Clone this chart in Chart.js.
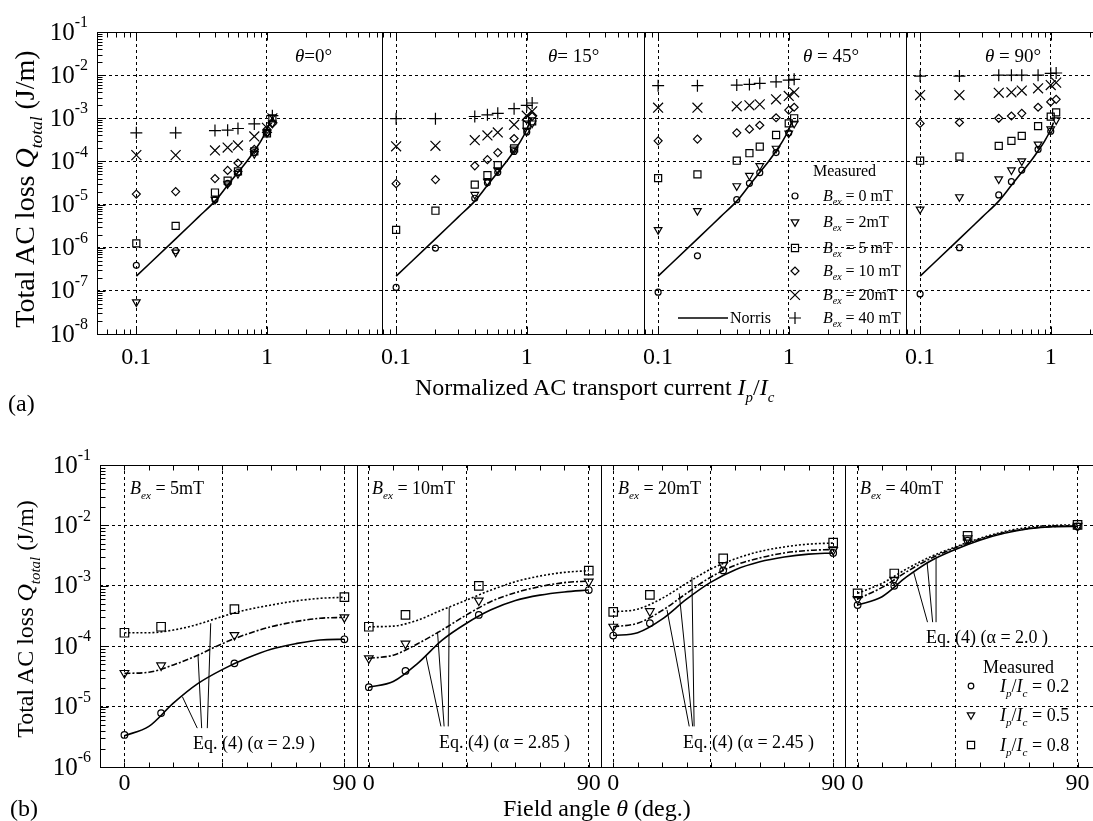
<!DOCTYPE html>
<html lang="en">
<head>
<meta charset="UTF-8">
<title>Total AC loss vs transport current and field angle</title>
<script src="https://cdn.jsdelivr.net/npm/chart.js"></script>
<style>
    * { margin: 0; padding: 0; box-sizing: border-box; }
    body { background: #fff; font-family: 'Liberation Serif', 'Times New Roman', serif; color: #000; }
    #page { position: relative; width: 1093px; height: 821px; overflow: hidden; }
    canvas { position: absolute; left: 0; }
    #chartA { top: 0; }
    #chartB { top: 410px; }
    .lbl { position: absolute; white-space: nowrap; line-height: 1; transform: translateY(-50%); }
    .lbl sub { font-size: 0.62em; vertical-align: -0.45em; line-height: 0; }
    .rot { transform: translate(-50%, -50%) rotate(-90deg); }
</style>
</head>
<body>
<div id="page">
    <canvas id="chartA" width="1168" height="410"></canvas>
    <canvas id="chartB" width="1102" height="400"></canvas>
</div>
<script>
// ---------- panel (a): loss vs normalized transport current ----------
const currentRatio = [0.1, 0.2, 0.4, 0.5, 0.6, 0.8, 1.0, 1.1];
const angleTitlesA = ['<i>θ</i>=0°', '<i>θ</i>= 15°', '<i>θ</i> = 45°', '<i>θ</i> = 90°'];
const fieldLabels = ['= 0 mT', '= 2mT', '= 5 mT', '= 10 mT', '= 20mT', '= 40 mT'];

// theta = 0 deg
const d0_B0  = [3.9e-7, 8.5e-7, 1.3e-5, 3.1e-5, 5.5e-5, 1.6e-4, 4.6e-4, null];
const d0_B2  = [5.5e-8, 7.8e-7, 1.3e-5, 3.0e-5, 5.2e-5, 1.5e-4, 4.6e-4, 7.7e-4];
const d0_B5  = [1.26e-6, 3.2e-6, 1.9e-5, 3.6e-5, 5.9e-5, 1.7e-4, 4.5e-4, 1.0e-3];
const d0_B10 = [1.75e-5, 2.0e-5, 4.0e-5, 6.2e-5, 9.2e-5, 1.9e-4, 5.5e-4, 7.5e-4];
const d0_B20 = [1.4e-4, 1.4e-4, 1.8e-4, 2.1e-4, 2.35e-4, 3.8e-4, 6.0e-4, 1.0e-3];
const d0_B40 = [4.6e-4, 4.6e-4, 5.2e-4, 5.3e-4, 5.8e-4, 7.4e-4, null, 1.15e-3];
// theta = 15 deg
const d15_B0  = [1.2e-7, 9.8e-7, 1.4e-5, 3.2e-5, 5.6e-5, 1.7e-4, 4.8e-4, null];
const d15_B2  = [null, null, 1.7e-5, 3.4e-5, 6.3e-5, 1.9e-4, 5.2e-4, 7.7e-4];
const d15_B5  = [2.6e-6, 7.2e-6, 2.9e-5, 4.8e-5, 8.2e-5, 2.0e-4, 7.1e-4, 8.5e-4];
const d15_B10 = [3.05e-5, 3.8e-5, 7.9e-5, 1.1e-4, 1.6e-4, 3.4e-4, 9.4e-4, 1.1e-3];
const d15_B20 = [2.24e-4, 2.3e-4, 3.1e-4, 4.0e-4, 4.7e-4, 7.1e-4, 1.15e-3, 1.45e-3];
const d15_B40 = [9.8e-4, 9.8e-4, 1.1e-3, 1.2e-3, 1.3e-3, 1.67e-3, 2.0e-3, 2.26e-3];
// theta = 45 deg
const d45_B0  = [9.3e-8, 6.5e-7, 1.3e-5, 3.1e-5, 5.5e-5, 1.6e-4, 4.6e-4, null];
const d45_B2  = [2.6e-6, 7.2e-6, 2.7e-5, 4.7e-5, 7.9e-5, 2.0e-4, 4.5e-4, 7.6e-4];
const d45_B5  = [4.1e-5, 5.0e-5, 1.04e-4, 1.55e-4, 2.2e-4, 4.1e-4, 7.6e-4, 1.0e-3];
const d45_B10 = [3.0e-4, 3.3e-4, 4.6e-4, 5.6e-4, 6.9e-4, 1.03e-3, 1.55e-3, 1.8e-3];
const d45_B20 = [1.76e-3, 1.76e-3, 1.9e-3, 2.0e-3, 2.1e-3, 2.75e-3, 3.3e-3, 4.0e-3];
const d45_B40 = [5.7e-3, 5.7e-3, 5.9e-3, 6.1e-3, 6.45e-3, 7.0e-3, 7.7e-3, 8.0e-3];
// theta = 90 deg
const d90_B0  = [8.5e-8, 1.0e-6, 1.67e-5, 3.4e-5, 6.3e-5, 1.9e-4, 5.0e-4, null];
const d90_B2  = [7.8e-6, 1.5e-5, 3.9e-5, 6.3e-5, 1.02e-4, 2.5e-4, 5.6e-4, 9.1e-4];
const d90_B5  = [1.04e-4, 1.3e-4, 2.3e-4, 3.0e-4, 3.9e-4, 6.6e-4, 1.09e-3, 1.37e-3];
const d90_B10 = [7.6e-4, 8.0e-4, 1.0e-3, 1.13e-3, 1.3e-3, 1.8e-3, 2.4e-3, 2.75e-3];
const d90_B20 = [3.45e-3, 3.45e-3, 3.9e-3, 4.0e-3, 4.4e-3, 4.95e-3, 5.9e-3, 6.7e-3];
const d90_B40 = [9.5e-3, 9.5e-3, 1.0e-2, 1.0e-2, 1.0e-2, 1.0e-2, 1.1e-2, 1.12e-2];

const norrisCurrent = [0.1, 0.2, 0.3, 0.4, 0.5, 0.6, 0.7, 0.8, 0.9, 1.0, 1.05];
const norrisLoss = [2.2e-7, 1.6e-6, 5.2e-6, 1.2e-5, 2.8e-5, 5.6e-5, 1.0e-4, 1.75e-4, 3.0e-4, 5.5e-4, 8.0e-4];

// ---------- panel (b): loss vs field angle ----------
const measuredAngle = [0, 15, 45, 90];
const fitAngle = [0, 10, 20, 30, 40, 50, 60, 70, 80, 90];
const fieldTitlesB = ['5mT', '10mT', '20mT', '40mT'];
const alphaLabels = ['2.9', '2.85', '2.45', '2.0'];
const ratioLabels = ['= 0.2', '= 0.5', '= 0.8'];

const b5_r02 = [3.4e-6, 7.8e-6, 5.2e-5, 1.3e-4];
const b5_r05 = [3.6e-5, 4.8e-5, 1.53e-4, 3.0e-4];
const b5_r08 = [1.67e-4, 2.1e-4, 4.1e-4, 6.5e-4];
const fit5_r02 = [3.3e-6, 4.7e-6, 1.14e-5, 2.4e-5, 4.1e-5, 6.3e-5, 8.9e-5, 1.1e-4, 1.27e-4, 1.3e-4];
const fit5_r05 = [3.55e-5, 3.7e-5, 4.9e-5, 7.1e-5, 1.1e-4, 1.58e-4, 2.1e-4, 2.55e-4, 2.9e-4, 3.0e-4];
const fit5_r08 = [1.67e-4, 1.67e-4, 1.85e-4, 2.3e-4, 3.1e-4, 4.0e-4, 4.8e-4, 5.6e-4, 6.2e-4, 6.45e-4];

const b10_r02 = [2.1e-5, 3.9e-5, 3.3e-4, 8.5e-4];
const b10_r05 = [6.3e-5, 1.1e-4, 5.7e-4, 1.17e-3];
const b10_r08 = [2.1e-4, 3.3e-4, 1.0e-3, 1.78e-3];
const fit10_r02 = [2.1e-5, 2.6e-5, 5.2e-5, 1.26e-4, 2.4e-4, 4.0e-4, 5.7e-4, 7.0e-4, 7.9e-4, 8.5e-4];
const fit10_r05 = [6.3e-5, 7.1e-5, 1.1e-4, 1.86e-4, 3.3e-4, 5.5e-4, 7.7e-4, 9.7e-4, 1.13e-3, 1.2e-3];
const fit10_r08 = [2.1e-4, 2.15e-4, 2.7e-4, 4.0e-4, 5.8e-4, 8.5e-4, 1.17e-3, 1.45e-3, 1.67e-3, 1.78e-3];

const b20_r02 = [1.5e-4, 2.4e-4, 1.8e-3, 3.5e-3];
const b20_r05 = [2.1e-4, 3.8e-4, 2.2e-3, 3.9e-3];
const b20_r08 = [3.7e-4, 7.1e-4, 2.85e-3, 5.2e-3];
const fit20_r02 = [1.5e-4, 1.67e-4, 2.8e-4, 6.0e-4, 1.15e-3, 1.85e-3, 2.5e-3, 3.0e-3, 3.35e-3, 3.5e-3];
const fit20_r05 = [2.1e-4, 2.4e-4, 3.9e-4, 7.5e-4, 1.4e-3, 2.2e-3, 2.9e-3, 3.5e-3, 3.85e-3, 4.0e-3];
const fit20_r08 = [3.7e-4, 4.1e-4, 6.2e-4, 1.1e-3, 1.9e-3, 2.8e-3, 3.7e-3, 4.4e-3, 4.9e-3, 5.1e-3];

const b40_r02 = [4.8e-4, 1.0e-3, 5.6e-3, 9.6e-3];
const b40_r05 = [6.05e-4, 1.25e-3, 6.1e-3, 9.8e-3];
const b40_r08 = [7.5e-4, 1.6e-3, 6.7e-3, 1.02e-2];
const fit40_r02 = [4.8e-4, 6.6e-4, 1.4e-3, 2.6e-3, 4.0e-3, 5.7e-3, 7.4e-3, 8.8e-3, 9.5e-3, 9.6e-3];
const fit40_r05 = [6.05e-4, 9.4e-4, 1.7e-3, 2.85e-3, 4.26e-3, 5.9e-3, 7.6e-3, 8.9e-3, 9.6e-3, 9.8e-3];
const fit40_r08 = [7.5e-4, 1.1e-3, 1.9e-3, 3.05e-3, 4.4e-3, 6.1e-3, 7.9e-3, 9.3e-3, 1.0e-2, 1.02e-2];

// leader lines from "Eq. (4)" labels to the fitted curves, in data units
const eqLeaders = [
    {axis: 'x0', from: [23.7, 1.46e-5], to: [29.8, 4.4e-6]},
    {axis: 'x0', from: [30.1, 7.1e-5], to: [31.6, 4.4e-6]},
    {axis: 'x0', from: [35.3, 2.4e-4], to: [33.9, 4.4e-6]},
    {axis: 'x1', from: [23.3, 7.1e-5], to: [29.5, 4.7e-6]},
    {axis: 'x1', from: [28.1, 1.73e-4], to: [30.8, 4.7e-6]},
    {axis: 'x1', from: [32.9, 4.4e-4], to: [32.5, 4.7e-6]},
    {axis: 'x2', from: [22.0, 4.0e-4], to: [31.1, 4.7e-6]},
    {axis: 'x2', from: [27.0, 7.5e-4], to: [32.5, 4.7e-6]},
    {axis: 'x2', from: [32.2, 1.4e-3], to: [33.1, 4.7e-6]},
    {axis: 'x3', from: [22.9, 1.7e-3], to: [28.6, 2.5e-4]},
    {axis: 'x3', from: [28.4, 2.5e-3], to: [30.7, 2.5e-4]},
    {axis: 'x3', from: [32.1, 2.85e-3], to: [32.1, 2.5e-4]}
];

const FONT = '"Liberation Serif", "Times New Roman", serif';

const symStyle = {
    circle:  {pointStyle: 'circle', rotation: 0},
    tri:     {pointStyle: 'triangle', rotation: 180},
    square:  {pointStyle: 'rect', rotation: 0},
    diamond: {pointStyle: 'rectRot', rotation: 0},
    ex:      {pointStyle: 'crossRot', rotation: 0},
    plus:    {pointStyle: 'cross', rotation: 0}
};
const symSizeA = {circle: 3, tri: 4.4, square: 5, diamond: 4, ex: 7, plus: 6};
const symSizeB = {circle: 3.3, tri: 5, square: 6, diamond: 4, ex: 7, plus: 6};

function markers(xs, ys, axis, sym, sizes) {
    const pts = xs.map((x, i) => ({x: x, y: ys[i]})).filter(p => p.y != null);
    return {
        data: pts, xAxisID: axis, yAxisID: 'y', showLine: false,
        pointStyle: symStyle[sym].pointStyle, pointRotation: symStyle[sym].rotation,
        pointRadius: sizes[sym], pointBorderWidth: 1.2,
        pointBorderColor: '#000', pointBackgroundColor: 'rgba(0,0,0,0)'
    };
}

function curve(xs, ys, axis, dash, width) {
    return {
        data: xs.map((x, i) => ({x: x, y: ys[i]})), xAxisID: axis, yAxisID: 'y',
        showLine: true, pointRadius: 0, borderColor: '#000', borderWidth: width,
        borderDash: dash, cubicInterpolationMode: 'monotone', fill: false
    };
}

// draws a legend glyph the same way Chart.js draws the point styles
function drawSym(ctx, sym, x, y, r) {
    const h = r * Math.SQRT1_2;
    ctx.beginPath();
    if (sym === 'circle') ctx.arc(x, y, r, 0, Math.PI * 2);
    if (sym === 'tri') { ctx.moveTo(x, y + r); ctx.lineTo(x + r * 0.866, y - r / 2); ctx.lineTo(x - r * 0.866, y - r / 2); ctx.closePath(); }
    if (sym === 'square') ctx.rect(x - h, y - h, 2 * h, 2 * h);
    if (sym === 'diamond') { ctx.moveTo(x - r, y); ctx.lineTo(x, y - r); ctx.lineTo(x + r, y); ctx.lineTo(x, y + r); ctx.closePath(); }
    if (sym === 'ex') { ctx.moveTo(x - h, y - h); ctx.lineTo(x + h, y + h); ctx.moveTo(x + h, y - h); ctx.lineTo(x - h, y + h); }
    if (sym === 'plus') { ctx.moveTo(x - r, y); ctx.lineTo(x + r, y); ctx.moveTo(x, y - r); ctx.lineTo(x, y + r); }
    ctx.stroke();
}

function seg(ctx, x1, y1, x2, y2) {
    ctx.beginPath(); ctx.moveTo(x1, y1); ctx.lineTo(x2, y2); ctx.stroke();
}

// frame, panel separators, inward ticks, y tick labels, legend glyphs, leader lines
const panelDecor = {
    id: 'panelDecor',
    afterDatasetsDraw(chart, args, o) {
        const ctx = chart.ctx, a = chart.chartArea, ys = chart.scales.y;
        ctx.save();
        ctx.strokeStyle = '#000'; ctx.fillStyle = '#000'; ctx.lineWidth = 1; ctx.setLineDash([]);
        const L = Math.round(a.left) + 0.5, T = Math.round(a.top) + 0.5, B = Math.round(a.bottom) + 0.5;

        o.xIds.forEach((id, i) => {
            const s = chart.scales[id];
            if (i > 0) { const x = Math.round(s.left) + 0.5; seg(ctx, x, T, x, B); }
            const marks = [];
            if (o.xLog) {
                for (let d = -2; d <= 1; d++) for (let k = 1; k <= 9; k++) marks.push([k * Math.pow(10, d), k === 1]);
            } else {
                for (let v = -10; v <= 100; v += 10) marks.push([v, false]);
            }
            marks.forEach(([v, major]) => {
                if (v <= s.min || v >= s.max) return;
                const x = Math.round(s.getPixelForValue(v)) + 0.5, len = major ? 8 : 5;
                seg(ctx, x, T, x, T + len);
                seg(ctx, x, B, x, B - len);
            });
        });

        for (let d = o.yExp[0]; d < o.yExp[1]; d++) {
            for (let k = 1; k <= 9; k++) {
                const v = k * Math.pow(10, d);
                if (k === 1 && d === o.yExp[0]) continue;
                const y = Math.round(ys.getPixelForValue(v)) + 0.5;
                seg(ctx, L, y, L + (k === 1 ? 8 : 5), y);
            }
        }
        ctx.strokeRect(L, T, Math.round(a.right - a.left), Math.round(a.bottom - a.top));

        // y tick labels: 10 with superscript exponent
        ctx.textBaseline = 'middle';
        for (let d = o.yExp[0]; d <= o.yExp[1]; d++) {
            const y = ys.getPixelForValue(Math.pow(10, d));
            const right = a.left - 9, exp = String(d);
            ctx.font = '16px ' + FONT;
            const ew = ctx.measureText(exp).width;
            ctx.textAlign = 'left';
            ctx.fillText(exp, right - ew, y - 9);
            ctx.font = '25px ' + FONT;
            ctx.textAlign = 'right';
            ctx.fillText('10', right - ew, y + 1);
        }

        ctx.lineWidth = 1.2;
        (o.legend || []).forEach(g => drawSym(ctx, g.sym, g.x, g.y, g.r));
        (o.legendLines || []).forEach(l => { ctx.lineWidth = 1.5; seg(ctx, l[0], l[1], l[2], l[3]); });

        ctx.lineWidth = 1;
        (o.leaders || []).forEach(ld => {
            const s = chart.scales[ld.axis];
            seg(ctx, s.getPixelForValue(ld.from[0]), ys.getPixelForValue(ld.from[1]),
                s.getPixelForValue(ld.to[0]), ys.getPixelForValue(ld.to[1]));
        });
        ctx.restore();
    }
};

const gridOpts = {color: '#000', lineWidth: 1, drawTicks: false};
const borderOpts = {display: false, dash: [3, 3]};

// fixed axis box sizes, and no label overhang padding so the panels keep their widths
function fixBox(size, horizontal) {
    return s => {
        if (horizontal) s.height = size; else s.width = size;
        s.paddingLeft = 0; s.paddingRight = 0; s.paddingTop = 0; s.paddingBottom = 0;
    };
}

function yAxis(minExp, maxExp, width) {
    const vals = [];
    for (let d = minExp; d <= maxExp; d++) vals.push(Math.pow(10, d));
    return {
        type: 'logarithmic', position: 'left', min: vals[0], max: vals[vals.length - 1],
        afterBuildTicks: s => { s.ticks = vals.map(v => ({value: v})); },
        afterFit: fixBox(width, false),
        ticks: {display: false}, grid: gridOpts, border: borderOpts
    };
}

function currentAxis(min, max) {
    return {
        type: 'logarithmic', position: 'bottom', stack: 'cur',
        stackWeight: Math.log10(max / min), min: min, max: max,
        afterBuildTicks: s => { s.ticks = [{value: 0.1}, {value: 1}]; },
        afterFit: fixBox(76, true),
        grid: gridOpts, border: borderOpts,
        ticks: {color: '#000', font: {family: FONT, size: 24}, padding: 9, maxRotation: 0, autoSkip: false,
            callback: v => v === 0.1 ? '0.1' : (v === 1 ? '1' : '')}
    };
}

function angleAxis(min, max) {
    return {
        type: 'linear', position: 'bottom', stack: 'ang', stackWeight: max - min, min: min, max: max,
        afterBuildTicks: s => { s.ticks = [{value: 0}, {value: 40}, {value: 90}]; },
        afterFit: fixBox(43, true),
        grid: gridOpts, border: borderOpts,
        ticks: {color: '#000', font: {family: FONT, size: 24}, padding: 2, maxRotation: 0, autoSkip: false,
            callback: v => v === 40 ? '' : String(v)}
    };
}

// ---------- build chart (a) ----------
const setsA = [
    [d0_B0, d0_B2, d0_B5, d0_B10, d0_B20, d0_B40],
    [d15_B0, d15_B2, d15_B5, d15_B10, d15_B20, d15_B40],
    [d45_B0, d45_B2, d45_B5, d45_B10, d45_B20, d45_B40],
    [d90_B0, d90_B2, d90_B5, d90_B10, d90_B20, d90_B40]
];
const symsA = ['circle', 'tri', 'square', 'diamond', 'ex', 'plus'];
const datasetsA = [];
setsA.forEach((group, i) => {
    datasetsA.push(curve(norrisCurrent, norrisLoss, 'x' + i, [], 1.6));
    group.forEach((ys, j) => datasetsA.push(markers(currentRatio, ys, 'x' + i, symsA[j], symSizeA)));
});

new Chart(document.getElementById('chartA'), {
    type: 'scatter',
    data: {datasets: datasetsA},
    options: {
        responsive: false, animation: false, devicePixelRatio: 1,
        layout: {autoPadding: false, padding: {top: 32, left: 0, right: 0, bottom: 0}},
        scales: {
            y: yAxis(-8, -1, 97),
            x0: currentAxis(0.05, 7.6),
            x1: currentAxis(0.078, 7.9),
            x2: currentAxis(0.078, 7.9),
            x3: currentAxis(0.078, 7.9)
        },
        plugins: {
            legend: {display: false}, tooltip: {enabled: false},
            panelDecor: {
                xIds: ['x0', 'x1', 'x2', 'x3'], xLog: true, yExp: [-8, -1],
                legend: symsA.map((s, i) => ({sym: s, x: 795, y: [196, 222, 248, 271, 295, 318][i], r: symSizeA[s]})),
                legendLines: [[678, 318, 728, 318]]
            }
        }
    },
    plugins: [panelDecor]
});

// ---------- build chart (b) ----------
const setsB = [
    [[b5_r02, b5_r05, b5_r08], [fit5_r02, fit5_r05, fit5_r08]],
    [[b10_r02, b10_r05, b10_r08], [fit10_r02, fit10_r05, fit10_r08]],
    [[b20_r02, b20_r05, b20_r08], [fit20_r02, fit20_r05, fit20_r08]],
    [[b40_r02, b40_r05, b40_r08], [fit40_r02, fit40_r05, fit40_r08]]
];
const symsB = ['circle', 'tri', 'square'];
const fitDash = [[], [6, 2, 2, 2], [2, 2]];
const datasetsB = [];
setsB.forEach((pair, i) => {
    pair[1].forEach((ys, j) => datasetsB.push(curve(fitAngle, ys, 'x' + i, fitDash[j], 1.6)));
    pair[0].forEach((ys, j) => datasetsB.push(markers(measuredAngle, ys, 'x' + i, symsB[j], symSizeB)));
});

new Chart(document.getElementById('chartB'), {
    type: 'scatter',
    data: {datasets: datasetsB},
    options: {
        responsive: false, animation: false, devicePixelRatio: 1,
        layout: {autoPadding: false, padding: {top: 55, left: 0, right: 0, bottom: 0}},
        scales: {
            y: yAxis(-6, -1, 100),
            x0: angleAxis(-10, 95),
            x1: angleAxis(-5, 95),
            x2: angleAxis(-5, 95),
            x3: angleAxis(-5, 100)
        },
        plugins: {
            legend: {display: false}, tooltip: {enabled: false},
            panelDecor: {
                xIds: ['x0', 'x1', 'x2', 'x3'], xLog: false, yExp: [-6, -1],
                legend: symsB.map((s, i) => ({sym: s, x: 971, y: [276, 305, 335][i], r: symSizeB[s] * 0.85})),
                leaders: eqLeaders
            }
        }
    },
    plugins: [panelDecor]
});

// ---------- text ----------
const page = document.getElementById('page');
function addLabel(html, left, cy, size, cls) {
    const el = document.createElement('div');
    el.className = 'lbl' + (cls ? ' ' + cls : '');
    el.innerHTML = html;
    el.style.left = left + 'px';
    el.style.top = cy + 'px';
    el.style.fontSize = size + 'px';
    page.appendChild(el);
}
const bex = '<i>B</i><sub><i>ex</i></sub>';
const ipic = '<i>I</i><sub><i>p</i></sub>/<i>I</i><sub><i>c</i></sub>';

addLabel('Total AC loss <i>Q</i><sub><i>total</i></sub> (J/m)', 25, 189, 28, 'rot');
addLabel('Normalized AC transport current ' + ipic, 415, 387, 24);
addLabel('(a)', 8, 403, 24);
[295, 548, 803, 985].forEach((x, i) => addLabel(angleTitlesA[i], x, 55, 19));
addLabel('Measured', 813, 171, 16);
fieldLabels.forEach((t, i) => addLabel(bex + ' ' + t, 823, [196, 222, 248, 271, 295, 318][i], 16));
addLabel('Norris', 730, 318, 16);

addLabel('Total AC loss <i>Q</i><sub><i>total</i></sub> (J/m)', 25, 619, 24, 'rot');
addLabel('Field angle <i>θ</i> (deg.)', 503, 808, 24);
addLabel('(b)', 10, 808, 24);
[130, 372, 618, 860].forEach((x, i) => addLabel(bex + ' = ' + fieldTitlesB[i], x, 488, 18));
[[193, 743], [439, 742], [683, 742], [926, 637]].forEach((p, i) =>
    addLabel('Eq. (4) (α = ' + alphaLabels[i] + ' )', p[0], p[1], 18));
addLabel('Measured', 983, 667, 18);
ratioLabels.forEach((t, i) => addLabel(ipic + ' ' + t, 1000, [686, 715, 745][i], 18));
</script>
</body>
</html>
